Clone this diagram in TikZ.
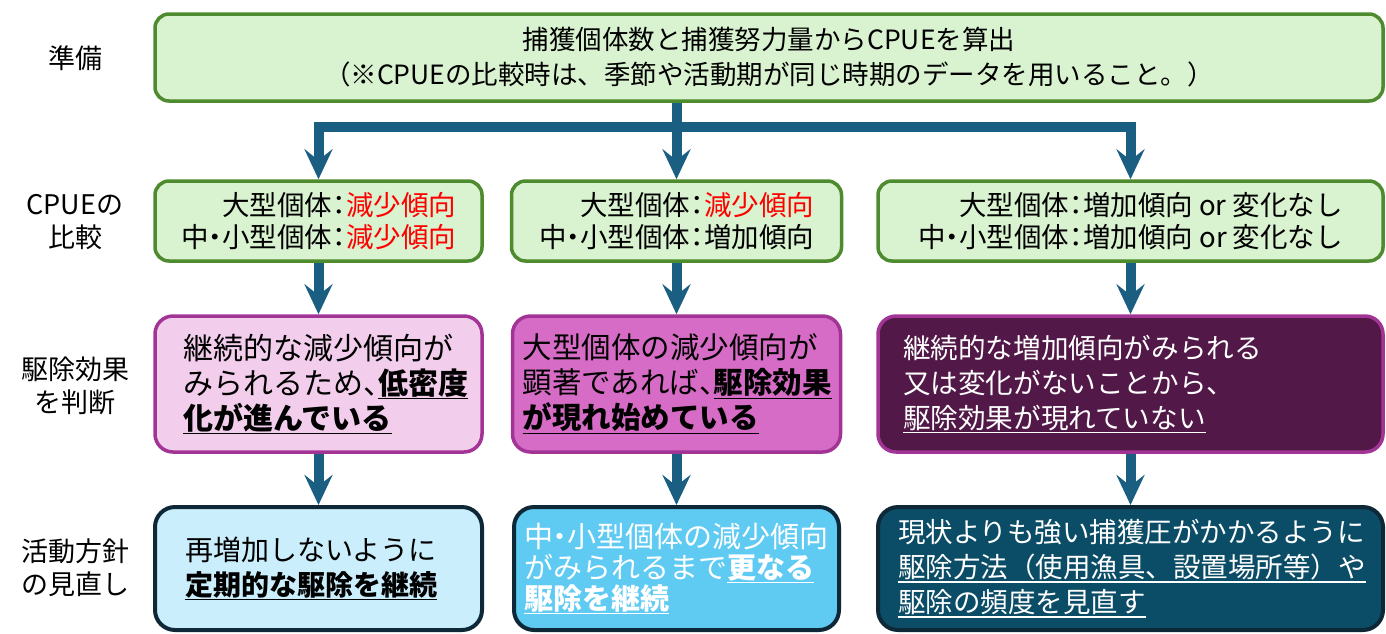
\documentclass[tikz,border=0pt]{standalone}
\usepackage{fontspec}
\setmainfont{Noto Sans CJK JP}
\usetikzlibrary{arrows.meta}
\definecolor{gfill}{HTML}{D9F2D0}
\definecolor{gline}{HTML}{4E8A2E}
\definecolor{arr}{HTML}{1A5E82}
\definecolor{pline}{HTML}{A23496}
\definecolor{pfillA}{HTML}{F2CEEC}
\definecolor{pfillB}{HTML}{D66CC6}
\definecolor{pfillC}{HTML}{521848}
\definecolor{bline}{HTML}{0E2838}
\definecolor{bfillA}{HTML}{CAEEFB}
\definecolor{bfillB}{HTML}{5FCAF2}
\definecolor{bfillC}{HTML}{0B4D66}
\definecolor{redtxt}{HTML}{FF0000}
\newcommand\hc{\makebox[.5em][c]{：}}
\newcommand\hd{\makebox[.5em][c]{・}}
\newcommand\hk{\makebox[.5em][l]{、}}
\newcommand\ulr[1]{\setbox0\hbox{#1}\leavevmode\rlap{\rule[-0.18em]{\wd0}{1.6pt}}\box0}
\newcommand\ulb[1]{\ulr{\bfseries #1}}
\tikzset{
  lab/.style={align=center, inner sep=0pt, font=\fontsize{27}{33}\selectfont},
  gbox/.style={draw=gline, fill=gfill, line width=3.5pt, rounded corners=14pt, inner sep=0pt},
  pbox/.style={draw=pline, line width=3.5pt, rounded corners=18pt, inner ysep=0pt, align=left},
  bbox/.style={draw=bline, line width=4pt, rounded corners=20pt, inner ysep=0pt, align=left},
  flow/.style={draw=arr, line width=10pt, -{Stealth[length=30pt,width=28pt,inset=11pt]}},
  flowline/.style={draw=arr, line width=10pt}
}
\begin{document}
\begin{tikzpicture}[x=1pt,y=-1pt]
\useasboundingbox (0,0) rectangle (1386,633);
% row labels
\node[lab] (l1) at (75,58) {準備};
\node[lab] (l2) at (75,222) {CPUEの\\比較};
\node[lab] (l3) at (75,386) {駆除効果\\を判断};
\node[lab] (l4) at (75,568) {活動方針\\の見直し};
% top
\node[gbox, minimum width=1228pt, minimum height=87pt, align=center,
      font=\fontsize{26.5}{35}\selectfont] (top) at (769,57.5)
  {捕獲個体数と捕獲努力量からCPUEを算出\\（※CPUEの比較時は、季節や活動期が同じ時期のデータを用いること。）};
% row 2
\node[gbox, minimum width=327pt, minimum height=80pt, align=right,
      font=\fontsize{27.5}{32}\selectfont] (a2) at (318.5,221)
  {大型個体\hc\textcolor{redtxt}{減少傾向}\\中\hd 小型個体\hc\textcolor{redtxt}{減少傾向}};
\node[gbox, minimum width=330pt, minimum height=80pt, align=right,
      font=\fontsize{27.5}{32}\selectfont] (b2) at (676.5,221)
  {大型個体\hc\textcolor{redtxt}{減少傾向}\\中\hd 小型個体\hc 増加傾向};
\node[gbox, minimum width=505pt, minimum height=80pt, align=right,
      font=\fontsize{27.5}{32}\selectfont] (c2) at (1130.5,221)
  {大型個体\hc 増加傾向 or 変化なし\\中\hd 小型個体\hc 増加傾向 or 変化なし};
% row 3
\node[pbox, fill=pfillA, inner xsep=28pt, text width=271pt, minimum height=136pt,
      font=\fontsize{30}{35}\selectfont] (a3) at (318.5,384)
  {継続的な減少傾向が\\みられるため\hk\ulb{低密度}\\\ulb{化が進んでいる}};
\node[pbox, fill=pfillB, inner xsep=10pt, text width=308pt, minimum height=136pt,
      font=\fontsize{29.5}{35}\selectfont] (b3) at (676.5,384)
  {大型個体の減少傾向が\\顕著であれば\hk\ulb{駆除効果}\\\ulb{が現れ始めている}};
\node[pbox, fill=pfillC, text=white, inner xsep=25pt, text width=455pt, minimum height=136pt,
      font=\fontsize{27.6}{35}\selectfont] (c3) at (1130.5,384)
  {継続的な増加傾向がみられる\\又は変化がないことから、\\\ulr{駆除効果が現れていない}};
% row 4
\node[bbox, fill=bfillA, inner xsep=30pt, text width=267pt, minimum height=123pt,
      font=\fontsize{28}{35}\selectfont] (a4) at (318.5,568.5)
  {再増加しないように\\\ulb{定期的な駆除を継続}};
\node[bbox, fill=bfillB, text=white, inner xsep=10pt, text width=305pt, minimum height=123pt,
      font=\fontsize{29}{31}\selectfont] (b4) at (676.5,568.5)
  {中\hd 小型個体の減少傾向\\がみられるまで\ulb{更なる}\\\ulb{駆除を継続}};
\node[bbox, fill=bfillC, text=white, inner xsep=20pt, text width=465pt, minimum height=123pt,
      font=\fontsize{27.5}{35}\selectfont] (c4) at (1130.5,568.5)
  {現状よりも強い捕獲圧がかかるように\\\ulr{駆除方法（使用漁具、設置場所等）や}\\\ulr{駆除の頻度を見直す}};
% connectors
\coordinate (j) at (676.5,127);
\draw[flowline] (top.south -| j) -- (j);
\draw[flow] (j) -| (a2.north);
\draw[flow] (j) -| (c2.north);
\draw[flow] (j) -- (b2.north);
\draw[flow] (a2.south) -- (a3.north);
\draw[flow] (b2.south) -- (b3.north);
\draw[flow] (c2.south) -- (c3.north);
\draw[flow] (a3.south) -- (a4.north);
\draw[flow] (b3.south) -- (b4.north);
\draw[flow] (c3.south) -- (c4.north);
\end{tikzpicture}
\end{document}
